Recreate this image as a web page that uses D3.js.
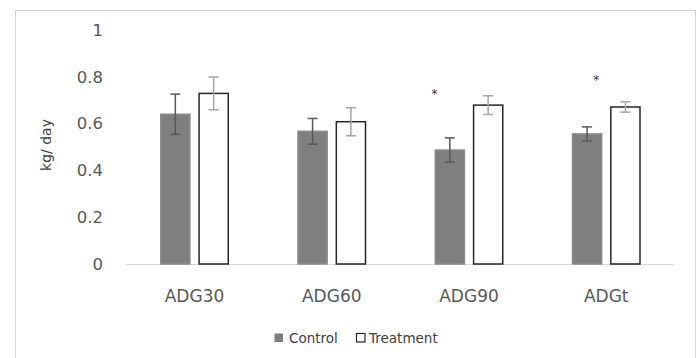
<!DOCTYPE html>
<html>
<head>
<meta charset="utf-8">
<script src="https://cdn.jsdelivr.net/npm/d3@7"></script>
<style>
  body { margin: 0; background: #fff; }
  svg { display: block; font-family: "DejaVu Sans", sans-serif; }
</style>
</head>
<body>
<div id="chart"></div>
<script>
// ADG bar chart: Control vs Treatment with error bars

const categories = ['ADG30', 'ADG60', 'ADG90', 'ADGt'];
const seriesNames = ['Control', 'Treatment'];
const controlValues = [0.64, 0.567, 0.487, 0.556];
const controlErrors = [0.086, 0.055, 0.052, 0.03];
const treatmentValues = [0.729, 0.608, 0.679, 0.671];
const treatmentErrors = [0.07, 0.06, 0.04, 0.022];
const yTicks = [0, 0.2, 0.4, 0.6, 0.8, 1];
const sigCategories = ['ADG90', 'ADGt'];
const sigLevels = [0.74, 0.80];

const width = 700, height = 358;
const plot = {left: 125, right: 674, top: 30, bottom: 264};

const svg = d3.select('#chart')
    .append('svg')
    .attr('width', width)
    .attr('height', height);

// Outer frame
svg.append('rect')
    .attr('x', 15.5)
    .attr('y', 10.5)
    .attr('width', 680)
    .attr('height', 360)
    .attr('fill', 'none')
    .attr('stroke', '#d4d4d4')
    .attr('stroke-width', 1);

const x0 = d3.scaleBand()
    .domain(categories)
    .range([plot.left, plot.right])
    .padding(0);

const groupStart = 35, groupEnd = 104;
const x1 = d3.scaleBand()
    .domain(seriesNames)
    .range([groupStart, groupEnd])
    .paddingInner(0.2);

const y = d3.scaleLinear()
    .domain([0, 1])
    .range([plot.bottom, plot.top]);

// Y axis labels (no line, no ticks)
const yAxis = svg.append('g')
    .attr('transform', `translate(${plot.left - 20},0)`)
    .call(d3.axisLeft(y).tickValues(yTicks).tickSize(0).tickPadding(2)
        .tickFormat(d => d3.format('~g')(d)));
yAxis.select('.domain').remove();
yAxis.selectAll('text')
    .attr('fill', '#595959')
    .style('font-family', '"DejaVu Sans", sans-serif')
    .style('font-size', '16.5px');

// Baseline
svg.append('line')
    .attr('x1', plot.left)
    .attr('x2', plot.right)
    .attr('y1', y(0) + 0.5)
    .attr('y2', y(0) + 0.5)
    .attr('stroke', '#d9d9d9')
    .attr('stroke-width', 1);

const rows = categories.map((c, i) => ({
    cat: c,
    values: [
        {name: 'Control', value: controlValues[i], err: controlErrors[i]},
        {name: 'Treatment', value: treatmentValues[i], err: treatmentErrors[i]}
    ]
}));

const styles = {
    Control: {fill: '#7f7f7f', stroke: '#8c8c8c', err: '#595959'},
    Treatment: {fill: '#ffffff', stroke: '#262626', err: '#a6a6a6'}
};

const groups = svg.selectAll('.group')
    .data(rows)
    .enter()
    .append('g')
    .attr('class', 'group')
    .attr('transform', d => `translate(${x0(d.cat)},0)`);

const bars = groups.selectAll('.bar')
    .data(d => d.values)
    .enter()
    .append('g')
    .attr('class', 'bar');

bars.append('rect')
    .attr('x', d => x1(d.name) + 0.75)
    .attr('y', d => y(d.value))
    .attr('width', x1.bandwidth() - 1.5)
    .attr('height', d => y(0) - y(d.value))
    .attr('fill', d => styles[d.name].fill)
    .attr('stroke', d => styles[d.name].stroke)
    .attr('stroke-width', 1.5);

// Error bars
const capHalf = 5;
bars.append('line')
    .attr('x1', d => x1(d.name) + x1.bandwidth() / 2)
    .attr('x2', d => x1(d.name) + x1.bandwidth() / 2)
    .attr('y1', d => y(d.value + d.err))
    .attr('y2', d => y(d.value - d.err))
    .attr('stroke', d => styles[d.name].err)
    .attr('stroke-width', 1.5);

[d => d.value + d.err, d => d.value - d.err].forEach(acc => {
    bars.append('line')
        .attr('x1', d => x1(d.name) + x1.bandwidth() / 2 - capHalf)
        .attr('x2', d => x1(d.name) + x1.bandwidth() / 2 + capHalf)
        .attr('y1', d => y(acc(d)))
        .attr('y2', d => y(acc(d)))
        .attr('stroke', d => styles[d.name].err)
        .attr('stroke-width', 1.5);
});

// Significance asterisks
const starShift = [0, 0.8];
sigCategories.forEach((c, i) => {
    svg.append('text')
        .attr('x', x0(c) + x1('Control') + starShift[i] * x1.bandwidth())
        .attr('y', y(sigLevels[i]) + 7)
        .attr('text-anchor', 'middle')
        .attr('fill', '#333')
        .style('font-size', '12px')
        .text('*');
});

// Category labels
svg.selectAll('.cat-label')
    .data(categories)
    .enter()
    .append('text')
    .attr('class', 'cat-label')
    .attr('x', d => x0(d) + (groupStart + groupEnd) / 2)
    .attr('y', 301.5)
    .attr('text-anchor', 'middle')
    .attr('fill', '#595959')
    .style('font-size', '17px')
    .text(d => d);

// Y axis title
svg.append('text')
    .attr('transform', 'rotate(-90)')
    .attr('x', -145)
    .attr('y', 51)
    .attr('text-anchor', 'middle')
    .attr('fill', '#404040')
    .style('font-size', '14px')
    .text('kg/ day');

// Legend
const legend = svg.append('g').attr('transform', 'translate(274,343)');
const legendItems = [
    {name: 'Control', dx: 0},
    {name: 'Treatment', dx: 81}
];
legendItems.forEach(item => {
    const g = legend.append('g').attr('transform', `translate(${item.dx},0)`);
    g.append('rect')
        .attr('x', item.name === 'Control' ? 0.5 : 1.5)
        .attr('y', -9.5)
        .attr('width', 8.5)
        .attr('height', 8.5)
        .attr('fill', styles[item.name].fill)
        .attr('stroke', item.name === 'Control' ? 'none' : '#262626')
        .attr('stroke-width', 1.2);
    g.append('text')
        .attr('x', item.name === 'Control' ? 15 : 14)
        .attr('y', 0)
        .attr('fill', '#404040')
        .style('font-size', '13.5px')
        .text(item.name);
});
</script>
</body>
</html>
